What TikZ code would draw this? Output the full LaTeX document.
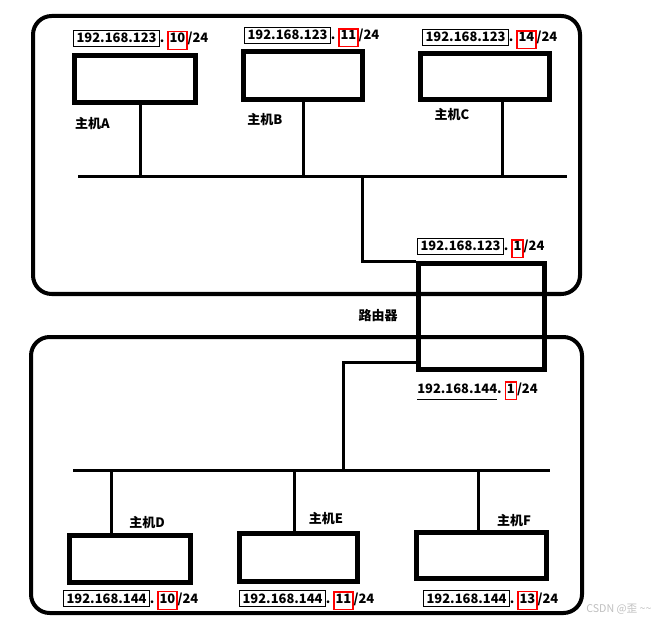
\documentclass[tikz,border=0pt]{standalone}
\usepackage{fontspec}
\setmainfont{Noto Sans CJK SC}
\usepackage{tikz}
\usetikzlibrary{calc}
\newdimen\pxu \pxu=0.75pt
\tikzstyle{region}=[draw, line width=3pt, rounded corners=14pt]
\tikzstyle{hostbox}=[draw, line width=3.75pt, inner sep=0pt]
\tikzstyle{bus}=[line width=2.25pt]
\tikzstyle{hostname}=[font=\fontsize{9.75}{11}\selectfont\bfseries, inner sep=0pt]
\tikzstyle{ipaddr}=[font=\fontsize{9.7}{12}\selectfont\bfseries, anchor=base west, inner sep=0pt]
\newcommand{\netpart}[1]{{\fboxsep=1.75pt\fboxrule=0.75pt\fbox{#1}}}
\newcommand{\hostpart}[1]{{\fboxsep=0.75pt\fboxrule=0.9pt\color{red}\fbox{\color{black}\rule[-3.5pt]{0pt}{0pt}#1}}}
\newcommand{\netline}[1]{\setbox0\hbox{#1}\rlap{\rule[-5pt]{\wd0}{0.75pt}}\box0}

\begin{document}
\begin{tikzpicture}[x=0.75pt,y=-0.75pt]
\useasboundingbox (0,0) rectangle (670,623);

% the two subnets
\draw[region] (33,16) rectangle (580,294);
\draw[region] (31,337) rectangle (582,613);

% 192.168.123.0/24
\node[hostbox, minimum width=121\pxu, minimum height=47\pxu] (hostA) at (134.5,79.5) {};
\node[hostbox, minimum width=119\pxu, minimum height=48\pxu] (hostB) at (302.5,76) {};
\node[hostbox, minimum width=129\pxu, minimum height=46\pxu] (hostC) at (484.5,77) {};

\node[ipaddr] (ipA) at (73,43) {\netpart{192.168.123}.\ \hostpart{10}/24};
\node[ipaddr] (ipB) at (244,40) {\netpart{192.168.123}.\ \hostpart{11}/24};
\node[ipaddr] (ipC) at (422,42) {\netpart{192.168.123}.\ \hostpart{14}/24};

\node[hostname] (nameA) at (92.5,124) {主机A};
\node[hostname] (nameB) at (265,120) {主机B};
\node[hostname] (nameC) at (452,115) {主机C};

\coordinate (busU-w) at (78,177);
\coordinate (busU-e) at (567,177);
\coordinate (tapA) at (140,177);
\coordinate (tapB) at (303,177);
\coordinate (tapC) at (502,177);
\coordinate (tapR) at (362,177);
\draw[bus] (busU-w) -- (busU-e);
\draw[bus] (tapA) -- (tapA |- hostA.south);
\draw[bus] (tapB) -- (tapB |- hostB.south);
\draw[bus] (tapC) -- (tapC |- hostC.south);

% router
\node[hostbox, minimum width=126\pxu, minimum height=105\pxu] (router) at (481,316.5) {};
\node[hostname] (nameR) at (378,316) {路由器};
\node[ipaddr] (ipR1) at (417,251) {\netpart{192.168.123}.\ \hostpart{1}/24};
\node[ipaddr] (ipR2) at (417,393) {\netline{192.168.144}.\ \hostpart{1}/24};
\draw[bus] (tapR) |- (router.north west);

% 192.168.144.0/24
\coordinate (busL-w) at (73,470);
\coordinate (busL-e) at (550,470);
\coordinate (tapD) at (111,470);
\coordinate (tapE) at (294,470);
\coordinate (tapF) at (478,470);
\coordinate (tapS) at (343,470);
\draw[bus] (busL-w) -- (busL-e);
\draw[bus] (router.south west) ++(0,-9) -| (tapS);

\node[hostbox, minimum width=121\pxu, minimum height=47\pxu] (hostD) at (129.5,559) {};
\node[hostbox, minimum width=118\pxu, minimum height=48\pxu] (hostE) at (298,557) {};
\node[hostbox, minimum width=130\pxu, minimum height=46\pxu] (hostF) at (481,555) {};

\draw[bus] (tapD) -- (tapD |- hostD.north);
\draw[bus] (tapE) -- (tapE |- hostE.north);
\draw[bus] (tapF) -- (tapF |- hostF.north);

\node[hostname] (nameD) at (147,523) {主机D};
\node[hostname] (nameE) at (326,519) {主机E};
\node[hostname] (nameF) at (514,521) {主机F};

\node[ipaddr] (ipD) at (63,603) {\netpart{192.168.144}.\ \hostpart{10}/24};
\node[ipaddr] (ipE) at (239,603) {\netpart{192.168.144}.\ \hostpart{11}/24};
\node[ipaddr] (ipF) at (423,603) {\netpart{192.168.144}.\ \hostpart{13}/24};

\node[font=\fontsize{8}{9}\selectfont, text=black!25, anchor=base west, inner sep=0pt] (mark) at (586,612) {CSDN @歪 \textasciitilde\textasciitilde};
\end{tikzpicture}
\end{document}
